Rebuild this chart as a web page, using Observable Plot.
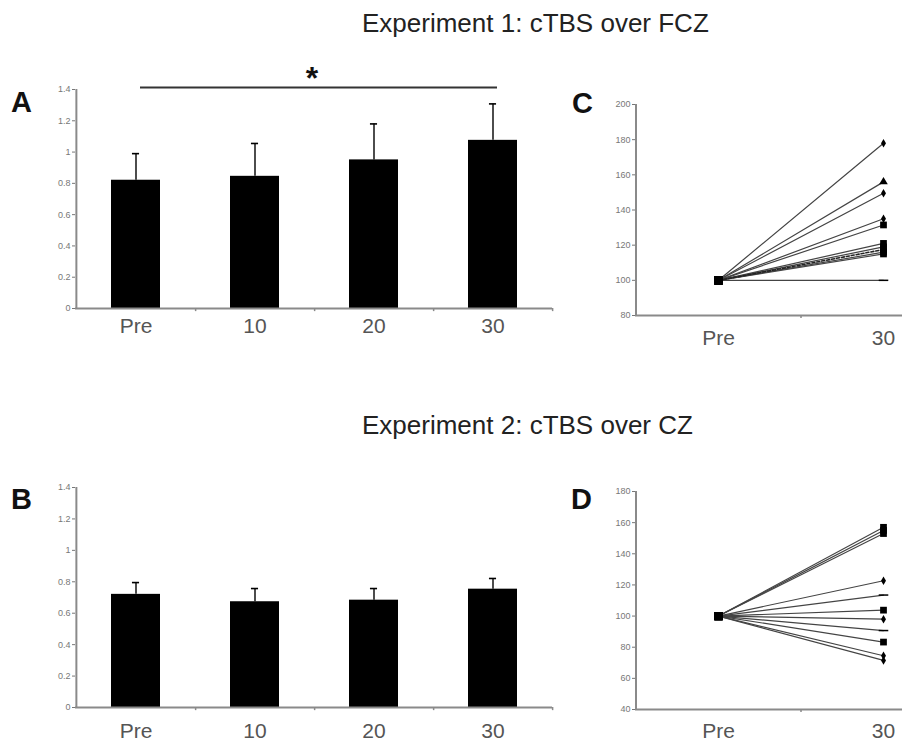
<!DOCTYPE html>
<html><head><meta charset="utf-8">
<script src="https://cdn.jsdelivr.net/npm/d3@7"></script>
<script src="https://cdn.jsdelivr.net/npm/@observablehq/plot@0.6"></script>
<style>
html,body{margin:0;padding:0;background:#fff;overflow:hidden;}
#wrap{position:relative;width:902px;height:741px;overflow:hidden;font-family:"Liberation Sans",Arial,sans-serif;background:#fff;}
.t{position:absolute;white-space:nowrap;line-height:1;}
.title{font-size:26px;color:#222;}
.lbl{font-size:29px;font-weight:bold;color:#111;}
#wrap svg{position:absolute;overflow:visible;}
</style></head><body><div id="wrap">
<div class="t title" style="left:362px;top:10px;">Experiment 1: cTBS over FCZ</div>
<div class="t title" style="left:362px;top:412px;">Experiment 2: cTBS over CZ</div>
<div class="t lbl" style="left:11px;top:88px;">A</div>
<div class="t lbl" style="left:11px;top:485px;">B</div>
<div class="t lbl" style="left:572px;top:89px;">C</div>
<div class="t lbl" style="left:571px;top:485px;">D</div>
</div>
<script>
// ---- data ----
const timepoints = ["Pre", "10", "20", "30"];
const exp1Mean = [0.82, 0.845, 0.95, 1.075];
const exp1Sem  = [0.17, 0.21, 0.23, 0.233];
const exp2Mean = [0.72, 0.673, 0.683, 0.753];
const exp2Sem  = [0.075, 0.084, 0.074, 0.068];
const barTicks = [0, 0.2, 0.4, 0.6, 0.8, 1, 1.2, 1.4];
const sigFrom = "Pre", sigTo = "30", sigLabel = "*";

const pairTimes = ["Pre", "30"];
const preValue = 100;
const exp1Post   = [178, 156, 149.5, 135, 131.5, 121, 119, 117.5, 116, 115, 100];
const exp1Marker = ["diamond","triangle","diamond","diamond","square","square","square","square","square","square","dash"];
const exp1Dashed = [false,false,false,false,false,false,false,true,false,false,false];
const cTicks = [80, 100, 120, 140, 160, 180, 200];
const exp2Post   = [157, 155, 153, 122.7, 113.5, 103.8, 98, 90.7, 83.3, 74.5, 71.5];
const exp2Marker = ["square","square","square","diamond","dash","square","diamond","dash","square","diamond","diamond"];
const exp2Dashed = [false,false,false,false,false,false,false,false,false,false,false];
const dTicks = [40, 60, 80, 100, 120, 140, 160, 180];

const wrap = document.getElementById("wrap");
const AXIS = "#8a8a8a";

function barPanel(means, sems, {left, top, height, mb, pad, sig}) {
  const W = 530, ml = 35, mr = 18;
  const data = timepoints.map((t, i) => ({t, m: means[i], hi: means[i] + sems[i]}));
  const step = (W - ml - mr) / timepoints.length;
  const pin = 0.59;
  const bw = step * (1 - pin);
  const marks = [
    Plot.barY(data, {x: "t", y: "m", fill: "#000"}),
    Plot.ruleX(data, {x: "t", y1: "m", y2: "hi", stroke: "#000", strokeWidth: 1.4}),
    Plot.tickY(data, {x: "t", y: "hi", stroke: "#000", strokeWidth: 1.6, insetLeft: (bw - 7) / 2, insetRight: (bw - 7) / 2}),
    Plot.ruleY([0], {stroke: AXIS, strokeWidth: 2}),
    Plot.ruleX([timepoints[0]], {y1: 0, y2: 1.4, dx: -step / 2, stroke: AXIS, strokeWidth: 2}),
    Plot.ruleX(timepoints, {y1: 0, y2: -0.02, dx: step / 2, stroke: AXIS, strokeWidth: 1.5}),
    Plot.axisY({ticks: barTicks, tickSize: 3, tickPadding: 2, fontSize: 9, tickFormat: d => String(d), color: "#777", label: null}),
    Plot.axisX({tickSize: 0, tickPadding: pad, fontSize: 21, color: "#555", label: null})
  ];
  if (sig) {
    marks.push(Plot.link([{a: sigFrom, b: sigTo, y: 1.413}], {x1: "a", x2: "b", y1: "y", y2: "y", dx: 4, stroke: "#333", strokeWidth: 2}));
    marks.push(Plot.text([sigLabel], {frameAnchor: "top", dx: -2, dy: -23, fontSize: 32, fontWeight: "bold", fill: "#111"}));
  }
  const p = Plot.plot({
    width: W, height, marginLeft: ml, marginRight: mr, marginTop: sig ? 39 : 40, marginBottom: mb,
    x: {type: "band", domain: timepoints, paddingInner: pin, paddingOuter: pin / 2, label: null},
    y: {domain: [0, 1.4], label: null},
    style: {background: "transparent", overflow: "visible", fontFamily: "Liberation Sans, Arial, sans-serif"},
    marks
  });
  p.style.left = left + "px"; p.style.top = top + "px";
  wrap.appendChild(p);
}

const dashSymbol = {draw(ctx, size) { const w = Math.sqrt(size) * 0.9; ctx.moveTo(-w, 0); ctx.lineTo(w, 0); }};

function linePanel(post, markers, dashed, {domain, ticks, top, height, mt, pad}) {
  const W = 375, ml = 35, mr = 10;
  const step = (W - ml - mr) / 2;
  const subj = post.map((v, i) => ({id: i, post: v, m: markers[i], dashed: dashed[i]}));
  const pts = subj.flatMap(s => [{id: s.id, t: pairTimes[0], v: preValue, d: s.dashed}, {id: s.id, t: pairTimes[1], v: s.post, d: s.dashed}]);
  const marks = [
    Plot.ruleY([domain[0]], {stroke: AXIS, strokeWidth: 2}),
    Plot.ruleX([pairTimes[0]], {y1: domain[0], y2: domain[1], dx: -step / 2, stroke: AXIS, strokeWidth: 2}),
    Plot.ruleX([pairTimes[0]], {y1: domain[0], y2: domain[0] - (domain[1] - domain[0]) * 0.014, dx: step / 2, stroke: AXIS, strokeWidth: 1.5}),
    Plot.line(pts.filter(d => !d.d), {x: "t", y: "v", z: "id", stroke: "#444", strokeWidth: 1.2}),
    Plot.line(pts.filter(d => d.d), {x: "t", y: "v", z: "id", stroke: "#222", strokeWidth: 1.6, strokeDasharray: "3,2"}),
    Plot.dot(subj, {x: () => pairTimes[0], y: () => preValue, symbol: "square", fill: "#000", r: 4.6}),
    Plot.dot(subj.filter(d => d.m === "square"), {x: () => pairTimes[1], y: "post", symbol: "square", fill: "#000", r: 3.8}),
    Plot.dot(subj.filter(d => d.m === "diamond"), {x: () => pairTimes[1], y: "post", symbol: "diamond", fill: "#000", r: 2.6}),
    Plot.dot(subj.filter(d => d.m === "triangle"), {x: () => pairTimes[1], y: "post", symbol: "triangle", fill: "#000", r: 3.2}),
    Plot.dot(subj.filter(d => d.m === "dash"), {x: () => pairTimes[1], y: "post", symbol: dashSymbol, stroke: "#000", fill: "none", strokeWidth: 1.5, r: 3}),
    Plot.axisY({ticks, tickSize: 3, tickPadding: 2, fontSize: 9, color: "#777", label: null}),
    Plot.axisX({tickSize: 0, tickPadding: pad, fontSize: 21, color: "#555", label: null})
  ];
  const p = Plot.plot({
    width: W, height, marginLeft: ml, marginRight: mr, marginTop: mt, marginBottom: 35,
    x: {type: "point", domain: pairTimes, padding: 0.5, label: null},
    y: {domain, label: null},
    style: {background: "transparent", overflow: "visible", fontFamily: "Liberation Sans, Arial, sans-serif"},
    marks
  });
  p.style.left = "600px"; p.style.top = top + "px";
  wrap.appendChild(p);
}

barPanel(exp1Mean, exp1Sem, {left: 40, top: 50, height: 290, mb: 32, pad: 10, sig: true});
barPanel(exp2Mean, exp2Sem, {left: 40, top: 447, height: 295, mb: 35, pad: 16, sig: false});
linePanel(exp1Post, exp1Marker, exp1Dashed, {domain: [80, 200], ticks: cTicks, top: 80, height: 270, mt: 24, pad: 15});
linePanel(exp2Post, exp2Marker, exp2Dashed, {domain: [40, 180], ticks: dTicks, top: 460, height: 284, mt: 31, pad: 14});
</script>
</body></html>
